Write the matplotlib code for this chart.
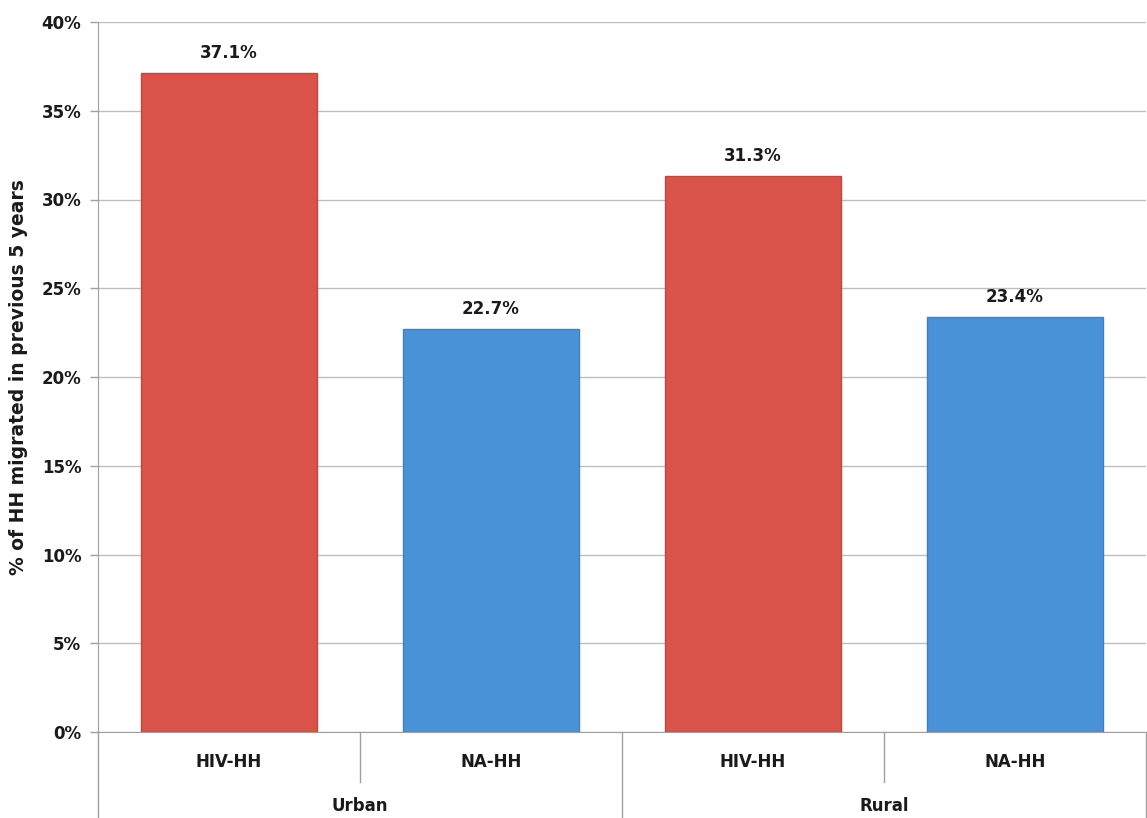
import matplotlib
matplotlib.use("Agg")
import matplotlib.pyplot as plt
import numpy as np

groups = ["Urban", "Rural"]
household_types = ["HIV-HH", "NA-HH"]
values = [37.1, 22.7, 31.3, 23.4]
bar_labels = ["37.1%", "22.7%", "31.3%", "23.4%"]
yticks = [0, 5, 10, 15, 20, 25, 30, 35, 40]
ytick_labels = ["0%", "5%", "10%", "15%", "20%", "25%", "30%", "35%", "40%"]

red = "#D9534A"
blue = "#4A92D8"
colors = [red, blue, red, blue]
edges = ["#C4473F", "#3E80C2", "#C4473F", "#3E80C2"]

plt.rcParams["font.family"] = ["DejaVu Sans"]
FS = 12

W, H = 1147, 818
fig = plt.figure(figsize=(W / 100, H / 100), dpi=100)
left, right, top, bottom = 98, 1146, 22, 732
ax = fig.add_axes([left / W, 1 - bottom / H, (right - left) / W, (bottom - top) / H])

x = np.arange(len(values))
bars = ax.bar(x, values, width=0.67, color=colors, edgecolor=edges, linewidth=1.0, zorder=3)

for xi, v, lab in zip(x, values, bar_labels):
    ax.annotate(lab, (xi, v), xytext=(0, 8), textcoords="offset points",
                ha="center", va="bottom", fontsize=FS, fontweight="bold", color="#1a1a1a")

ax.set_xlim(-0.5, len(values) - 0.5)
ax.set_ylim(0, 40)
ax.set_yticks(yticks)
ax.set_yticklabels(ytick_labels, fontsize=FS, fontweight="bold", color="#1a1a1a")
ax.yaxis.grid(True, color="#BDBDBD", linewidth=1.0, zorder=0)
ax.set_axisbelow(True)
ax.tick_params(axis="y", length=6, color="#A0A0A0", width=1, pad=6)
ax.set_xticks([])

for s in ["top", "right"]:
    ax.spines[s].set_visible(False)
ax.spines["left"].set_color("#A0A0A0")
ax.spines["bottom"].set_color("#A0A0A0")

ax.set_ylabel("% of HH migrated in previous 5 years", fontsize=13.5, fontweight="bold",
              color="#1a1a1a", labelpad=10)

# multi-level category axis
trans = ax.get_xaxis_transform()
axh = bottom - top
short_y = -(782 - bottom) / axh
full_y = -(H - bottom + 2) / axh
n = len(values)
for i in range(n + 1):
    xb = i - 0.5
    yb = full_y if i % 2 == 0 else short_y
    ax.plot([xb, xb], [0, yb], transform=trans, color="#A0A0A0", linewidth=1.0, clip_on=False)

lab_y = -(762 - bottom) / axh
grp_y = -(806 - bottom) / axh
for i in range(n):
    ax.text(i, lab_y, household_types[i % 2], transform=trans, ha="center", va="center",
            fontsize=FS, fontweight="bold", color="#1a1a1a")
for g, name in enumerate(groups):
    ax.text(2 * g + 0.5, grp_y, name, transform=trans, ha="center", va="center",
            fontsize=FS, fontweight="bold", color="#1a1a1a")

fig.savefig("out.png", dpi=100)
